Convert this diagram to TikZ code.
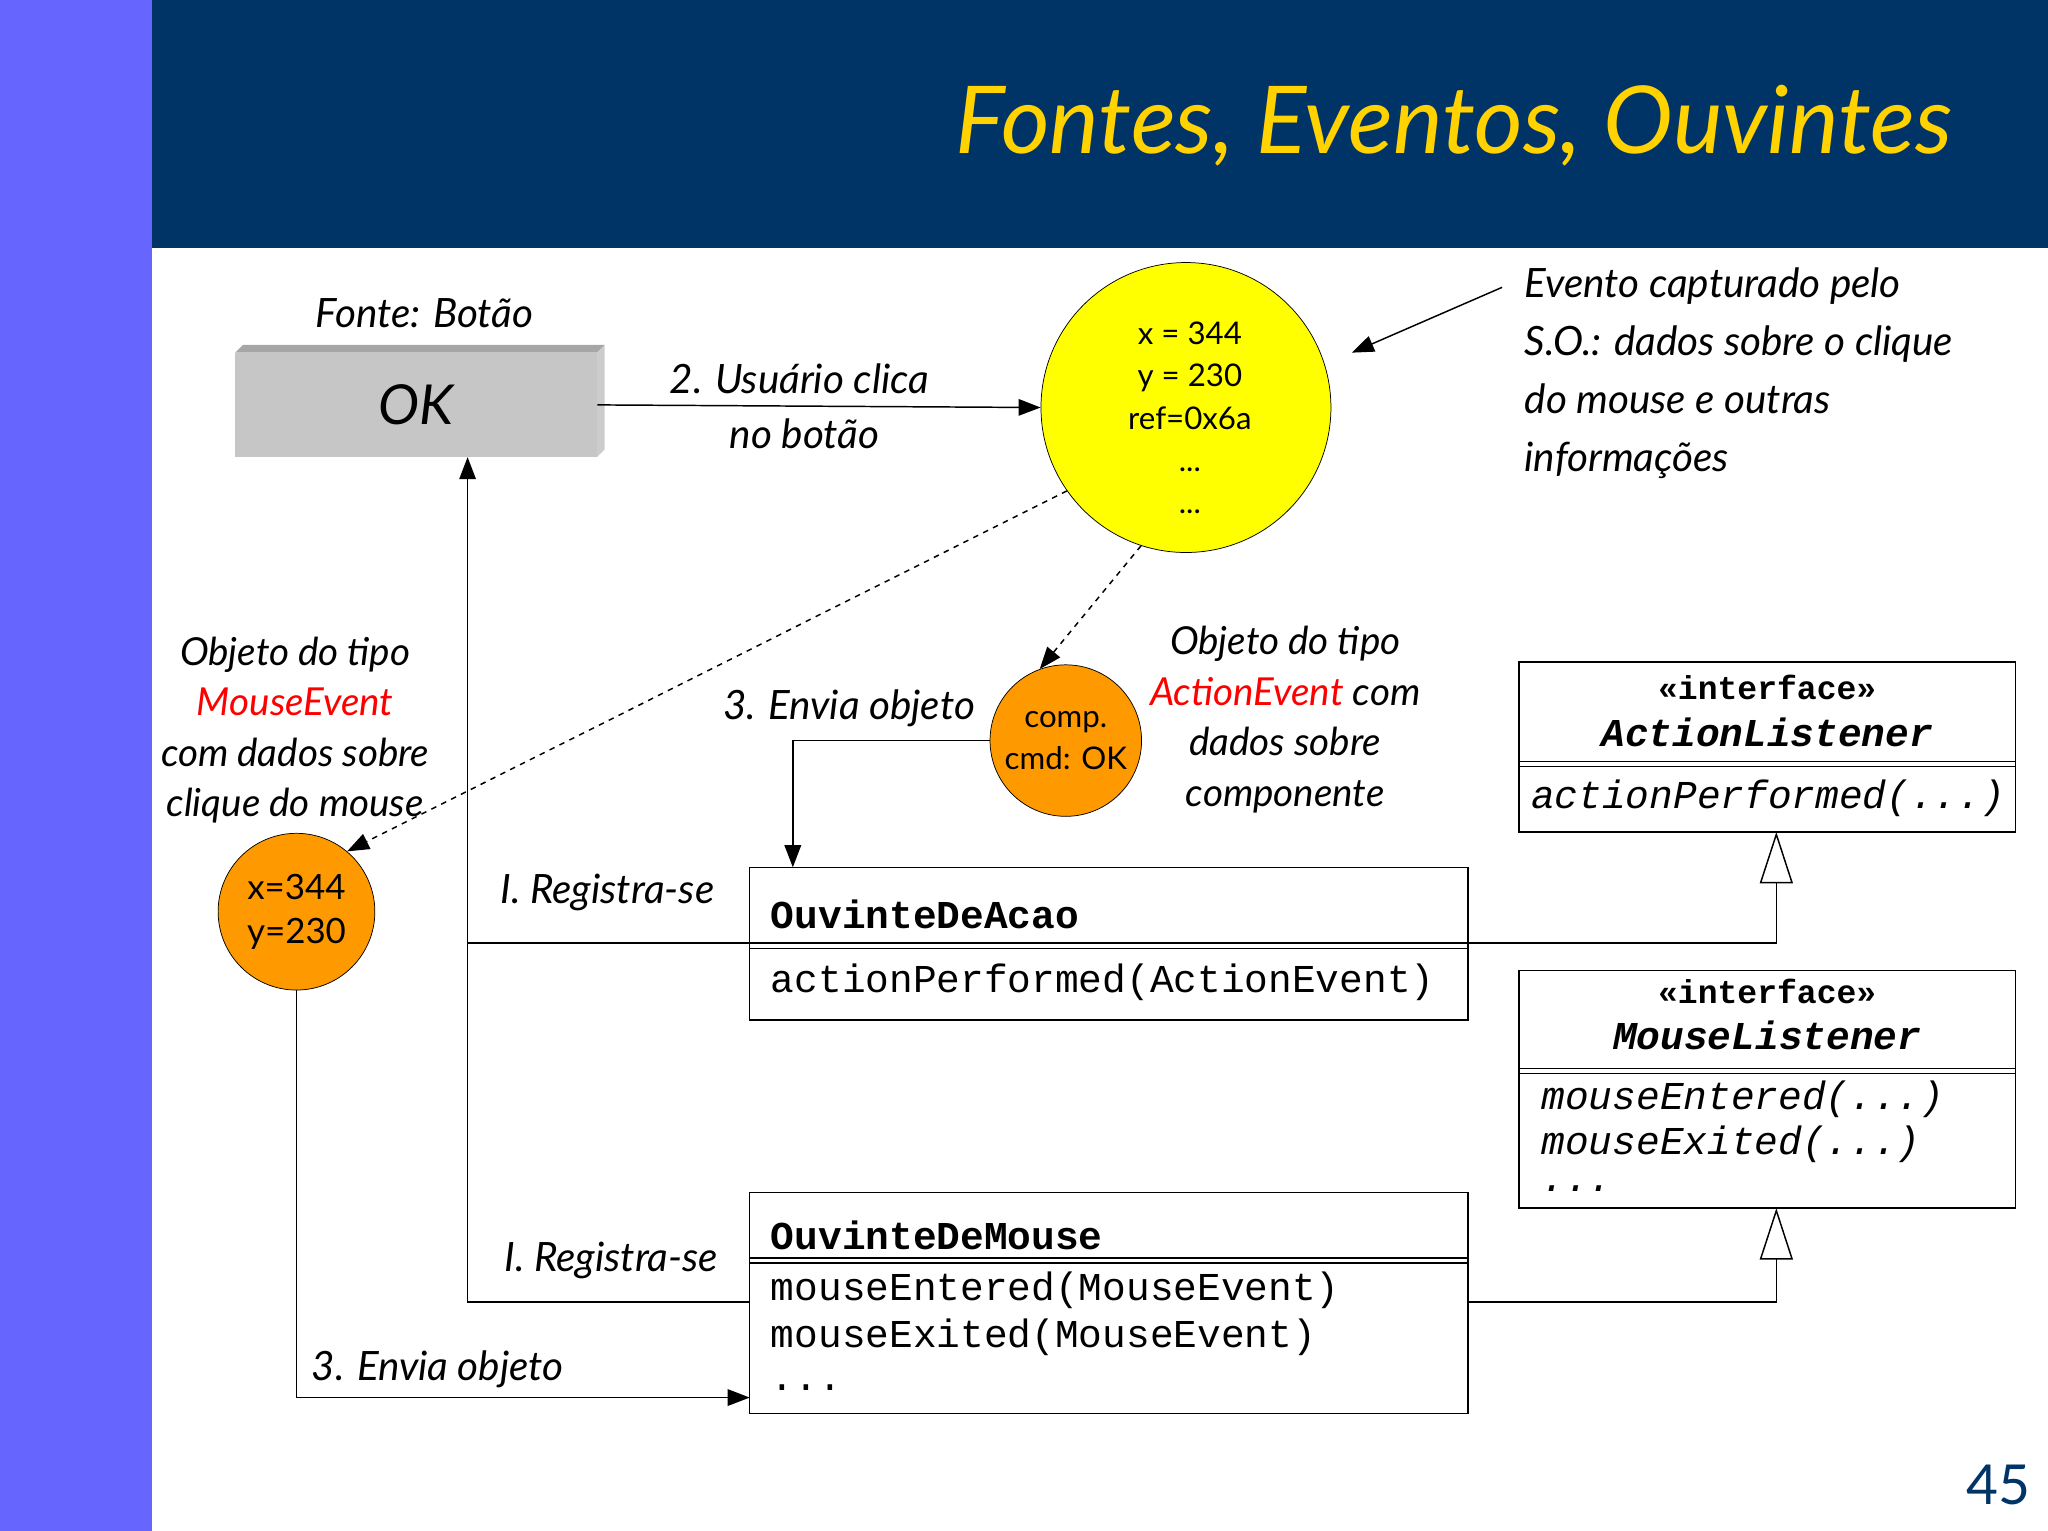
\documentclass[tikz,border=0pt]{standalone}
\usepackage{fontspec}
\setmainfont{Lato}
\setmonofont{Liberation Mono}
\usetikzlibrary{arrows.meta}
\definecolor{navy}{HTML}{003366}
\definecolor{strip}{HTML}{6666FF}
\definecolor{ttl}{HTML}{FFD200}
\definecolor{orng}{HTML}{FF9900}
\definecolor{ylw}{HTML}{FFFF00}
\tikzset{
 lbl/.style={font=\fontsize{22}{26}\selectfont\itshape, inner sep=0pt},
 ctxt/.style={font=\fontsize{17}{23}\selectfont, inner sep=0pt, align=center},
 mono/.style={font=\fontsize{21.5}{24}\ttfamily, inner sep=0pt, anchor=west},
 box/.style={draw, line width=0.8pt},
 conn/.style={line width=0.8pt},
 arr/.style={conn, -{Triangle[length=12pt,width=9pt]}},
 inh/.style={conn, -{Triangle[open,length=28pt,width=18pt,fill=white]}},
}
\begin{document}
\begin{tikzpicture}[x=0.025cm,y=-0.025cm]
\useasboundingbox (0,0) rectangle (1568,1172);
\fill[strip] (0,0) rectangle (116,1172);
\fill[navy] (116,0) rectangle (1568,190);
\node[anchor=east, text=ttl, font=\fontsize{51}{56}\selectfont\itshape, inner sep=0pt] (title) at (1495,96) {Fontes, Eventos, Ouvintes};
\node[text=navy, font=\fontsize{30}{34}\selectfont, inner sep=0pt] (pg) at (1530,1137) {45};
% button
\fill[gray!70] (180,270) -- (186,264) -- (463,264) -- (457,270) -- cycle;
\fill[gray!40] (457,270) -- (463,264) -- (463,344) -- (457,350) -- cycle;
\node[fill=gray!45, minimum width=277*0.025cm, minimum height=80*0.025cm, font=\fontsize{30}{34}\selectfont\itshape, inner sep=0pt] (ok) at (318.5,310) {OK};
\node[lbl] (fonte) at (325,240) {Fonte: Botão};
% yellow circle
\node[circle, draw, fill=ylw, minimum size=222*0.025cm, inner sep=0pt] (ev) at (908,312) {};
\node[ctxt] (evt) at (911,320) {x = 344\\y = 230\\ref=0x6a\\...\\...};
\draw[arr] (ok.east) -- (ev.west);
\node[lbl] (l2a) at (612,290) {2. Usuário clica};
\node[lbl] (l2b) at (616,332) {no botão};
\coordinate (ca) at (1150,220);
\coordinate (cb) at (1035,270);
\draw[arr] (ca) -- (cb);
\node[lbl, anchor=north west, align=left, font=\fontsize{22}{31.5}\selectfont\itshape] (evl) at (1167,205) {Evento capturado pelo\\S.O.: dados sobre o clique\\do mouse e outras\\informações};
% orange circles
\node[circle, draw, fill=orng, minimum size=116*0.025cm, inner sep=0pt, ctxt] (comp) at (816,567) {comp.\\cmd: OK};
\node[circle, draw, fill=orng, minimum size=120*0.025cm, inner sep=0pt, font=\fontsize{19}{24}\selectfont, align=center] (me) at (227,698) {x=344\\y=230};
\draw[arr, dashed] (ev.-145) -- (me.50);
\draw[arr, dashed] (ev.-108) -- (comp.110);
\node[lbl, align=center, font=\fontsize{21}{27.5}\selectfont\itshape] (ml) at (226,559) {Objeto do tipo\\\textcolor{red}{MouseEvent}\\com dados sobre\\clique do mouse};
\node[lbl, align=center, font=\fontsize{21}{27.5}\selectfont\itshape] (al) at (984,551) {Objeto do tipo\\\textcolor{red}{ActionEvent} com\\dados sobre\\componente};
% class boxes
\draw[box] (574,664) rectangle (1124,781);
\draw[conn] (574,722) -- (1124,722) (574,726) -- (1124,726);
\node[mono, font=\fontsize{21.5}{24}\ttfamily\bfseries] (oa) at (590,700) {OuvinteDeAcao};
\node[mono] (oam) at (590,752) {actionPerformed(ActionEvent)};
\draw[box] (574,913) rectangle (1124,1082);
\draw[conn] (574,963) -- (1124,963) (574,967) -- (1124,967);
\node[mono, font=\fontsize{21.5}{24}\ttfamily\bfseries] (om) at (590,946) {OuvinteDeMouse};
\node[mono] (om1) at (590,988) {mouseEntered(MouseEvent)};
\node[mono] (om2) at (590,1024) {mouseExited(MouseEvent)};
\node[mono] (om3) at (590,1062) {...};
\draw[box] (1163,507) rectangle (1543,637);
\draw[conn] (1163,583) -- (1543,583) (1163,587) -- (1543,587);
\node[font=\fontsize{18}{22}\ttfamily\bfseries, inner sep=0pt] (i1) at (1353,526) {«interface»};
\node[font=\fontsize{21.5}{24}\ttfamily\bfseries\itshape, inner sep=0pt] (al1) at (1353,561) {ActionListener};
\node[mono, font=\fontsize{21.5}{24}\ttfamily\itshape] (alm) at (1172,611) {actionPerformed(...)};
\draw[box] (1163,743) rectangle (1543,925);
\draw[conn] (1163,818) -- (1543,818) (1163,822) -- (1543,822);
\node[font=\fontsize{18}{22}\ttfamily\bfseries, inner sep=0pt] (i2) at (1353,759) {«interface»};
\node[font=\fontsize{21.5}{24}\ttfamily\bfseries\itshape, inner sep=0pt] (ml1) at (1353,793) {MouseListener};
\node[mono, font=\fontsize{21.5}{24}\ttfamily\itshape] (mlm1) at (1180,842) {mouseEntered(...)};
\node[mono, font=\fontsize{21.5}{24}\ttfamily\itshape] (mlm2) at (1180,876) {mouseExited(...)};
\node[mono, font=\fontsize{21.5}{24}\ttfamily\itshape] (mlm3) at (1180,910) {...};
% inheritance
\coordinate (ia) at (1124,722);
\coordinate (ib) at (1124,997);
\draw[inh] (ia) -| (1360,637);
\draw[inh] (ib) -| (1360,925);
% registration
\coordinate (r1) at (574,722);
\coordinate (r2) at (574,997);
\draw[conn] (r1) -- (358,722);
\draw[arr] (r2) -- (358,997) -- (358,350);
\node[lbl] (reg1) at (465,683) {I. Registra-se};
\node[lbl] (reg2) at (468,965) {I. Registra-se};
% send
\draw[arr] (comp.west) -- (607,567) -- (607,664);
\node[lbl] (s1) at (650,542) {3. Envia objeto};
\draw[arr] (me.south) -- (227,1070) -- (574,1070);
\node[lbl] (s2) at (335,1048) {3. Envia objeto};
\end{tikzpicture}
\end{document}
